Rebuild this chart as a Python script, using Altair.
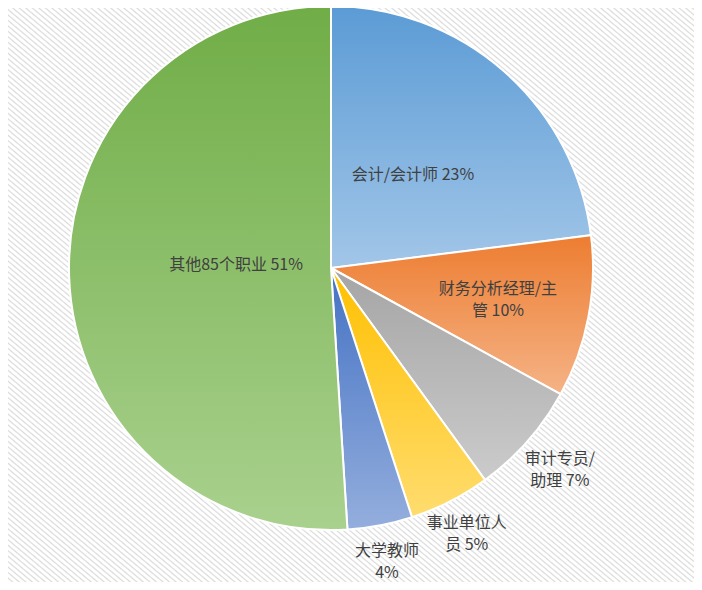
import altair as alt
import pandas as pd

# ---- data ----
categories = ["会计/会计师", "财务分析经理/主管", "审计专员/助理", "事业单位人员", "大学教师", "其他85个职业"]
shares = [23, 10, 7, 5, 4, 51]
label_texts = ["会计/会计师 23%", "财务分析经理/主\n管 10%", "审计专员/\n助理 7%",
               "事业单位人\n员 5%", "大学教师\n4%", "其他85个职业 51%"]

# ---- styles ----
top_colors = ["#5b9bd5", "#ed7d31", "#a5a5a5", "#ffc000", "#4472c4", "#70ad47"]
bottom_colors = ["#a2c6e8", "#f5b386", "#cbcbcb", "#ffdc6e", "#94aedd", "#a9d18e"]
label_radii = [124, 170, 305, 299, 299, 95]
label_adjust = [0, 0, 0, 0, 0, -6]
LH = 22

W, H = 686, 574
CX, CY, R = 323, 260, 262

df = pd.DataFrame({
    "category": categories,
    "share": shares,
    "label": label_texts,
    "idx": list(range(len(categories))),
    "lr": label_radii,
})

theta_scale = alt.Scale(domain=[0, 100], range=[0, 6.283185307179586])

base = alt.Chart(df).transform_window(
    cum="sum(share)", sort=[alt.SortField("idx", order="ascending")]
).transform_calculate(
    start="datum.cum - datum.share",
    mid="datum.cum - datum.share / 2",
)

# striped background
N = 210
stops = []
for k in range(N):
    stops.append(alt.GradientStop(color="#ffffff", offset=k / N))
    stops.append(alt.GradientStop(color="#ffffff", offset=(k + 0.45) / N))
    stops.append(alt.GradientStop(color="#dadada", offset=(k + 0.72) / N))
stops.append(alt.GradientStop(color="#ffffff", offset=1))
stripe = alt.LinearGradient(gradient="linear", stops=stops, x1=0, y1=1, x2=1, y2=0)

bg = alt.Chart(pd.DataFrame({"z": [0]})).mark_rect(fill=stripe).encode(
    x=alt.value(0), x2=alt.value(W), y=alt.value(0), y2=alt.value(H)
)

layers = [bg]
for i in range(len(categories)):
    grad = alt.LinearGradient(
        gradient="linear",
        stops=[alt.GradientStop(color=top_colors[i], offset=0),
               alt.GradientStop(color=bottom_colors[i], offset=1)],
        x1=0, y1=0, x2=0, y2=1,
    )
    layers.append(
        base.transform_filter(alt.datum.idx == i)
        .mark_arc(radius=R, stroke="white", strokeWidth=2, fill=grad)
        .encode(
            theta=alt.Theta("start:Q", scale=theta_scale),
            theta2="cum:Q",
            x=alt.value(CX),
            y=alt.value(CY),
        )
    )

for i in range(len(categories)):
    nlines = label_texts[i].count("\n") + 1
    dy = -(nlines - 1) * LH / 2 + label_adjust[i]
    layers.append(
        base.transform_filter(alt.datum.idx == i)
        .mark_text(
            font="Noto Sans CJK SC", fontSize=16, color="#404040", lineBreak="\n",
            align="center", baseline="middle", lineHeight=LH, dy=dy,
        )
        .encode(
            theta=alt.Theta("mid:Q", scale=theta_scale),
            radius=alt.Radius("lr:Q", scale=None),
            text="label:N",
            x=alt.value(CX),
            y=alt.value(CY),
        )
    )

chart = alt.layer(*layers).properties(
    width=W, height=H, autosize="none", padding=0, background="white"
).configure_view(stroke=None)

chart.save("out.html", embed_options={"renderer": "svg", "actions": False})
